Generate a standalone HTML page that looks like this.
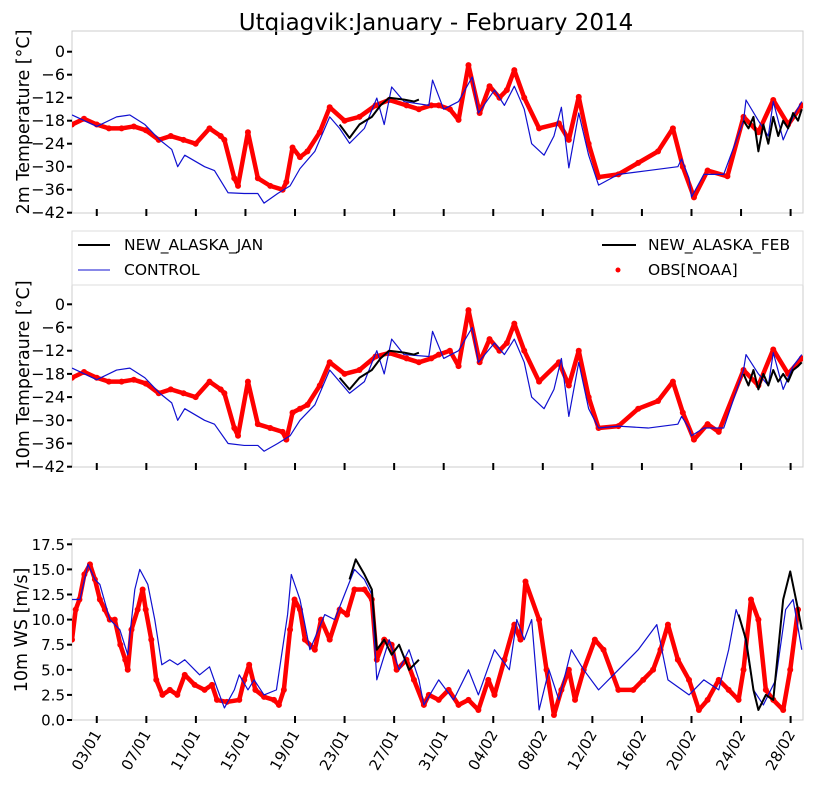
<!DOCTYPE html>
<html><head><meta charset="utf-8"><style>
body{margin:0;background:#fff;}
svg{display:block;font-family:"DejaVu Sans","Liberation Sans",sans-serif;}
</style></head><body>
<svg id="chart" width="817" height="801" viewBox="0 0 817 801">
<text x="436" y="30" font-size="23" text-anchor="middle">Utqiagvik:January - February 2014</text>
<g id="legend">
<rect x="72" y="231" width="731" height="54" fill="#fff" stroke="#ddd"/>
<line x1="78" y1="245" x2="110" y2="245" stroke="#000" stroke-width="2"/>
<text x="124" y="250" font-size="15.5">NEW_ALASKA_JAN</text>
<line x1="78" y1="270" x2="110" y2="270" stroke="#1010d0" stroke-width="1"/>
<text x="124" y="275" font-size="15.5">CONTROL</text>
<line x1="602" y1="245" x2="636" y2="245" stroke="#000" stroke-width="2"/>
<text x="648" y="250" font-size="15.5">NEW_ALASKA_FEB</text>
<circle cx="618" cy="270" r="2.5" fill="#f00"/>
<text x="648" y="275" font-size="15.5">OBS[NOAA]</text>
</g>
</svg>
<script>
// x axis: days since 01 Jan 2014
const xTickDays=[2,6,10,14,18,22,26,30,34,38,42,46,50,54,58];
const xTickLabels=["03/01","07/01","11/01","15/01","19/01","23/01","27/01","31/01","04/02","08/02","12/02","16/02","20/02","24/02","28/02"];
const tTicks=[0,-6,-12,-18,-24,-30,-36,-42];
const wsTicks=[0,2.5,5,7.5,10,12.5,15,17.5];
const wsTickLabels=["0.0","2.5","5.0","7.5","10.0","12.5","15.0","17.5"];

// Panel 1: 2m temperature
const obsT2Days=[0,0.97,2.0,2.98,4.0,4.99,5.96,7.0,7.97,9.0,9.98,11.1,12.0,12.3,13.1,13.4,14.2,15.0,16.0,17.0,17.3,17.8,18.4,19.0,20.0,20.8,22.0,23.2,24.5,25.6,27.0,28.0,29.0,29.6,30.5,31.2,32.0,32.9,33.7,34.5,35.1,35.7,36.5,37.7,39.3,40.1,40.9,41.7,42.5,44.1,45.7,47.3,48.5,49.3,50.2,51.3,52.9,54.2,55.4,56.6,57.8,58.9];
const obsT2=[-19,-17.5,-19,-20,-20,-19.5,-20.5,-23,-22,-23,-24,-20,-22,-23,-33,-35,-21,-33,-35,-36,-34,-25,-27.5,-26,-21,-14.5,-18,-17,-14,-12.6,-14,-15,-14,-14,-15,-17.8,-3.5,-16,-9,-12,-10,-4.8,-12,-20,-18.7,-23,-11.8,-24,-32.7,-32,-29,-26,-20,-30,-38,-31,-32.5,-17,-21,-12.6,-19,-14];
const ctlT2Days=[0,2.0,3.6,4.67,5.88,7.08,8.05,8.53,9.1,10.7,11.5,12.6,13.9,15.0,15.5,16.6,17.6,18.4,19.6,20.8,21.6,22.4,23.6,24.6,25.2,25.8,26.8,28.8,29.1,30.0,31.2,32.3,32.8,34.1,34.9,35.7,36.5,37.1,38.1,38.9,39.5,40.1,40.9,41.7,42.5,44.1,46.5,48.9,49.2,49.8,50.0,51.0,52.6,54.2,54.4,55.4,56.2,56.6,57.4,58.2,58.9];
const ctlT2=[-16.5,-19.5,-17,-16.5,-19,-23,-25.5,-30,-27,-30,-31,-36.8,-37,-37,-39.5,-37,-35,-30.5,-26,-17,-20,-23.9,-20,-12.1,-19,-9.2,-13,-14,-7.4,-15,-13,-6.6,-16,-10,-14,-9,-15,-24,-27,-22,-14.5,-30.3,-16,-27,-34.8,-32,-31,-30,-28,-33,-37.9,-32,-32,-18,-12.6,-18,-22,-13,-23,-17,-13];
const janT2Days=[21.6,22.4,23.2,24.2,24.9,25.6,26.8,27.6,28.0];
const janT2=[-19,-22.5,-19,-17,-14,-12,-12.5,-13,-12.5];
const febT2Days=[54.2,54.6,55.0,55.4,55.8,56.2,56.6,57.0,57.4,57.8,58.2,58.6,58.9];
const febT2=[-18,-20,-17,-26,-19,-24,-17,-22,-18,-20,-16,-18,-15];

// Panel 2: 10m temperature
const obsT10Days=[0,0.97,2.0,2.98,4.0,4.99,5.96,7.0,7.97,9.0,9.98,11.1,12.0,12.3,13.1,13.4,14.2,15.0,16.0,17.0,17.3,17.8,18.4,19.0,20.0,20.8,22.0,23.2,24.5,25.6,27.0,28.0,29.0,29.6,30.5,31.2,32.0,32.9,33.7,34.5,35.1,35.7,36.5,37.7,39.3,40.1,40.9,41.7,42.5,44.1,45.7,47.3,48.5,49.3,50.2,51.3,52.2,54.2,55.4,56.6,57.8,58.9];
const obsT10=[-19,-17.5,-19,-20,-20,-19.5,-20.5,-23,-22,-23,-24,-20,-22,-23,-32,-34,-20,-31,-32,-33,-35,-28,-27,-26,-21,-15,-18,-17,-13.5,-12.6,-14,-15,-14,-13,-12,-16,-1.5,-15,-9,-12,-10,-5,-12,-20,-15,-21,-12,-24,-32,-31.5,-27,-25,-20,-28,-35,-31,-33,-17,-21,-11.7,-18,-14];
const ctlT10Days=[0,2.0,3.6,4.67,5.88,7.08,8.05,8.53,9.1,10.7,11.5,12.6,13.9,15.0,15.5,16.6,17.6,18.4,19.6,20.8,21.6,22.4,23.6,24.6,25.2,25.8,26.8,28.8,29.1,30.0,31.2,32.3,32.8,34.1,34.9,35.7,36.5,37.1,38.1,38.9,39.5,40.1,40.9,41.7,42.5,44.1,46.5,48.9,49.2,49.8,50.0,51.0,52.6,54.2,54.4,55.4,56.2,56.6,57.4,58.2,58.9];
const ctlT10=[-16.5,-19.5,-17,-16.5,-19,-23,-25.5,-30,-27,-30,-31,-36,-36.5,-36.5,-38,-36,-34,-30,-26,-17,-20,-23,-20,-12,-18,-9,-13,-13.5,-7,-14,-12,-6,-15,-10,-13,-9,-15,-24,-27,-22,-14,-29,-15,-27,-32,-31.5,-32,-31,-29,-32,-34,-32,-32,-17,-13,-18,-21,-12.5,-22,-16,-13];
const janT10Days=[21.6,22.4,23.2,24.2,24.9,25.6,26.8,27.6,28.0];
const janT10=[-19,-22,-19,-17,-14,-12,-12.5,-13,-12.5];
const febT10Days=[54.2,54.6,55.0,55.4,55.8,56.2,56.6,57.0,57.4,57.8,58.2,58.6,58.9];
const febT10=[-18,-21,-17,-22,-18,-21,-17,-20,-18,-20,-17,-16,-15];

// Panel 3: 10m wind speed
const obsWSDays=[0,0.3,0.6,1.0,1.45,1.85,2.25,2.65,3.05,3.45,3.9,4.3,4.5,4.8,5.3,5.7,5.95,6.4,6.8,7.3,7.9,8.5,9.1,9.9,10.7,11.3,11.7,12.5,13.5,13.9,14.3,14.8,15.5,16.3,16.7,17.1,17.6,17.96,18.4,18.8,19.6,20.1,20.8,21.6,22.2,22.8,23.6,24.2,24.6,25.2,25.8,26.2,27.0,27.6,28.4,28.8,29.6,30.4,31.2,32.0,32.8,33.6,34.1,34.9,35.7,36.2,36.6,37.7,38.3,38.9,39.5,40.1,40.6,41.3,42.2,42.9,44.1,45.3,46.1,46.9,47.5,48.1,48.9,49.8,50.6,51.3,52.2,53.0,53.8,54.2,54.8,55.4,56.0,56.6,57.4,57.97,58.6];
const obsWS=[8,11,12,14.5,15.5,14,12,11,10,10,7.5,6,5,9,11,13,11,8,4,2.5,3,2.5,4.5,3.5,3,3.5,2,1.8,2,4,5.5,3,2.3,2,1.5,3,9,12,11,8,7,10,8,11,10.5,13,13,12,6,8,7.5,5,6,4,1.5,2.5,2,3,1.5,2,1,4,2.5,6,9.5,8,13.8,10,5,0.5,3,5,2,5,8,7,3,3,4,5,7,9.5,6,4,1,2,4,3,2,5,12,10,3,2,1,5,11,12,8];
const ctlWSDays=[0,0.64,1.29,1.85,2.25,3.05,3.86,4.5,5.07,5.47,6.12,6.68,7.25,7.89,8.53,9.1,9.9,10.3,11.1,11.7,12.3,13.1,13.5,14.2,14.7,15.5,16.5,17.4,17.7,18.4,19.2,20.4,21.2,22.0,22.8,23.6,24.2,24.6,25.6,26.4,27.2,28.0,28.4,29.6,30.8,32.0,32.8,34.1,35.3,35.9,36.5,37.1,37.7,38.5,39.3,40.3,41.3,42.5,44.1,45.7,47.2,48.1,49.8,51.0,52.2,53.0,53.6,54.2,55.0,55.8,56.8,57.6,58.2,58.9];
const ctlWS=[12,12,15.5,14,13.5,10,9,6.5,13,15,13.5,10,5.5,6,5.5,6,5,4.5,5.3,3.2,1.2,3,4.5,3,4,2.5,3,10.5,14.5,12,7,10.5,10,12.5,15,14,12.5,4,8,5,7,4,1.5,4,2,5,2.5,7,5,10,8,10,1,5,2,7,5,3,5,7,9.5,4,2.5,4,3,7,11,9,3,1.5,4,11,12,7];
const janWSDays=[22.4,22.9,23.6,24.2,24.6,25.2,25.8,26.4,27.2,28.0];
const janWS=[14,16,14.5,13,7,8,6.5,7.5,5,6];
const febWSDays=[53.8,54.4,55.0,55.4,56.0,56.6,57.4,57.97,58.6,58.9];
const febWS=[10.5,8,3,1,2.5,2,12,14.8,11,9];

const NS='http://www.w3.org/2000/svg';
const svg=document.getElementById('chart');
const X0=72,X1=803,D0=0,D1=59;
function xScale(d){return X0+(d-D0)*(X1-X0)/(D1-D0);}
function mk(tag,attrs,parent){const e=document.createElementNS(NS,tag);for(const k in attrs)e.setAttribute(k,attrs[k]);(parent||svg).appendChild(e);return e;}

function panel(cfg){
  const g=mk('g',{});
  
  
  const yS=v=>cfg.y0+(v-cfg.v0)*(cfg.y1-cfg.y0)/(cfg.v1-cfg.v0);
  const frame=mk('rect',{x:X0,y:cfg.top,width:X1-X0,height:cfg.bottom-cfg.top,fill:'none',stroke:'#ccc','stroke-width':1},g);
  
  
  cfg.ticks.forEach((v,i)=>{
    const y=yS(v);
    const t=mk('line',{x1:X0-5,x2:X0,y1:y,y2:y,stroke:'#000','stroke-width':2},g);
    
    
    const tx=mk('text',{x:X0-7,y:y+5.5,'font-size':cfg.tickFont,'text-anchor':'end'},g);
    tx.textContent=cfg.tickLabels?cfg.tickLabels[i]:(v<0?'\u2212'+(-v):String(v));
    
    
  });
  xTickDays.forEach((d,i)=>{
    const x=xScale(d);
    const t=mk('line',{x1:x,x2:x,y1:cfg.bottom-4,y2:cfg.bottom+3,stroke:'#000','stroke-width':2},g);
    
    
    if(cfg.xLabels){
      const tx=mk('text',{x:x+5,y:cfg.bottom+14,'font-size':15,'text-anchor':'end',transform:`rotate(-60 ${x+5} ${cfg.bottom+14})`},g);
      tx.textContent=xTickLabels[i];
      
      
    }
  });
  const yl=mk('text',{x:0,y:0,'font-size':17.5,'text-anchor':'middle',transform:`translate(${cfg.labelX} ${cfg.labelY}) rotate(-90)`},g);
  yl.textContent=cfg.label;
  
  
  const clip='clip-'+cfg.name;
  const cp=mk('clipPath',{id:clip},g);
  mk('rect',{x:X0,y:cfg.top,width:X1-X0,height:cfg.bottom-cfg.top},cp);
  const pg=mk('g',{'clip-path':`url(#${clip})`},g);
  const ob=mk('g',{},pg);
  
  
  let seg=[];
  const flush=()=>{if(seg.length>1){mk('polyline',{points:seg.join(' '),fill:'none',stroke:'#f00','stroke-width':4.5,'stroke-linejoin':'round','stroke-linecap':'round'},ob);}seg=[];};
  cfg.obsDays.forEach((d,i)=>{
    if(i>0&&d-cfg.obsDays[i-1]>2)flush();
    if(i<cfg.obs.length)seg.push(xScale(d)+','+yS(cfg.obs[i]));
  });
  flush();
  cfg.obsDays.forEach((d,i)=>{
    if(i>=cfg.obs.length)return;
    const c=mk('circle',{cx:xScale(d),cy:yS(cfg.obs[i]),r:3,fill:'#f00'},ob);
    
    
  });
  const line=(days,vals,color,w,name)=>{
    const n=Math.min(days.length,vals.length);
    const pts=[];for(let i=0;i<n;i++)pts.push(xScale(days[i])+','+yS(vals[i]));
    const p=mk('polyline',{points:pts.join(' '),fill:'none',stroke:color,'stroke-width':w,'stroke-linejoin':'round'},pg);
    
    
  };
  line(cfg.ctlDays,cfg.ctl,'#1010d0',1.2,'control-line');
  line(cfg.janDays,cfg.jan,'#000',2,'new-alaska-jan-line');
  line(cfg.febDays,cfg.feb,'#000',2,'new-alaska-feb-line');
}
panel({name:'panel-2m-temperature',top:31,bottom:213,y0:51.7,v0:0,y1:212.7,v1:-42,ticks:tTicks,tickFont:16,label:'2m Temperature [°C]',labelX:29,labelY:122,
  obsDays:obsT2Days,obs:obsT2,ctlDays:ctlT2Days,ctl:ctlT2,janDays:janT2Days,jan:janT2,febDays:febT2Days,feb:febT2});
panel({name:'panel-10m-temperature',top:285,bottom:467,y0:304.3,v0:0,y1:466.7,v1:-42,ticks:tTicks,tickFont:16,label:'10m Temperaure [°C]',labelX:29,labelY:375,
  obsDays:obsT10Days,obs:obsT10,ctlDays:ctlT10Days,ctl:ctlT10,janDays:janT10Days,jan:janT10,febDays:febT10Days,feb:febT10});
panel({name:'panel-10m-wind-speed',top:539,bottom:720,y0:720,v0:0,y1:544.3,v1:17.5,ticks:wsTicks,tickLabels:wsTickLabels,tickFont:15,label:'10m WS [m/s]',labelX:27,labelY:630,xLabels:true,
  obsDays:obsWSDays,obs:obsWS,ctlDays:ctlWSDays,ctl:ctlWS,janDays:janWSDays,jan:janWS,febDays:febWSDays,feb:febWS});
svg.appendChild(document.getElementById('legend'));
</script>
</body></html>
